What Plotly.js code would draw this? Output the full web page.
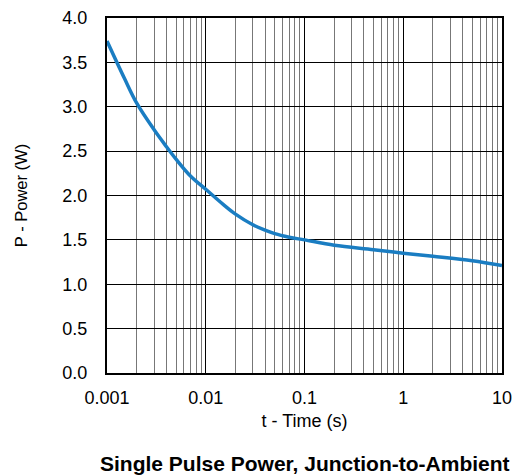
<!DOCTYPE html>
<html>
<head>
<meta charset="utf-8">
<script src="https://cdn.plot.ly/plotly-3.0.1.min.js"></script>
<style>html,body{margin:0;padding:0;background:#fff;}#chart{width:518px;height:475px;}</style>
</head>
<body>
<div id="chart"></div>
<script>
var timeS = [0.001, 0.0015, 0.002, 0.003, 0.004, 0.005, 0.007, 0.01, 0.015, 0.02, 0.03, 0.04, 0.05, 0.07, 0.1, 0.2, 0.5, 1, 2, 5, 10];
var powerW = [3.74, 3.32, 3.04, 2.74, 2.55, 2.41, 2.22, 2.07, 1.90, 1.79, 1.67, 1.61, 1.57, 1.53, 1.50, 1.44, 1.39, 1.35, 1.315, 1.265, 1.21];
var xTickVals = [0.001, 0.01, 0.1, 1, 10];
var xTickText = ["0.001", "0.01", "0.1", "1", "10"];
var minorVals = [];
[0.001, 0.01, 0.1, 1].forEach(function(d){ for (var k = 2; k <= 9; k++) minorVals.push(d*k); });

var font = "Liberation Sans, Arial, Helvetica, sans-serif";
var trace = {
  x: timeS, y: powerW, type: "scatter", mode: "lines",
  line: {color: "#1a7dc2", width: 3.5, shape: "spline", smoothing: 1},
  hoverinfo: "skip"
};
var layout = {
  width: 518, height: 475,
  margin: {l: 107, r: 16, t: 18, b: 102},
  paper_bgcolor: "#fff", plot_bgcolor: "#fff",
  showlegend: false,
  font: {family: font, size: 18, color: "#000"},
  xaxis: {
    type: "log", range: [-3, 1],
    tickmode: "array", tickvals: xTickVals, ticktext: xTickText,
    ticks: "outside", ticklen: 7, tickcolor: "rgba(0,0,0,0)",
    showgrid: true, gridcolor: "#000", gridwidth: 1,
    minor: {tickmode: "array", tickvals: minorVals, showgrid: true, gridcolor: "#777", gridwidth: 1, ticks: ""},
    showline: true, mirror: true, linecolor: "#000", linewidth: 2,
    zeroline: false,
    tickfont: {size: 18},
    title: {text: "t - Time (s)", font: {size: 18}, standoff: 8}
  },
  yaxis: {
    range: [0, 4], dtick: 0.5, tick0: 0, tickformat: ".1f",
    ticks: "outside", ticklen: 14, tickcolor: "rgba(0,0,0,0)",
    showgrid: true, gridcolor: "#000", gridwidth: 1,
    showline: true, mirror: true, linecolor: "#000", linewidth: 2,
    zeroline: false,
    tickfont: {size: 18},
    title: {text: "P - Power (W)", font: {size: 16.5}, standoff: 31}
  },
  annotations: [{
    xref: "paper", yref: "paper", x: 0.5, y: -0.292, xanchor: "center", yanchor: "bottom",
    text: "<b>Single Pulse Power, Junction-to-Ambient</b>", showarrow: false,
    font: {size: 21, family: font, color: "#000"}
  }]
};
Plotly.newPlot("chart", [trace], layout, {displayModeBar: false, staticPlot: true});
</script>
</body>
</html>
